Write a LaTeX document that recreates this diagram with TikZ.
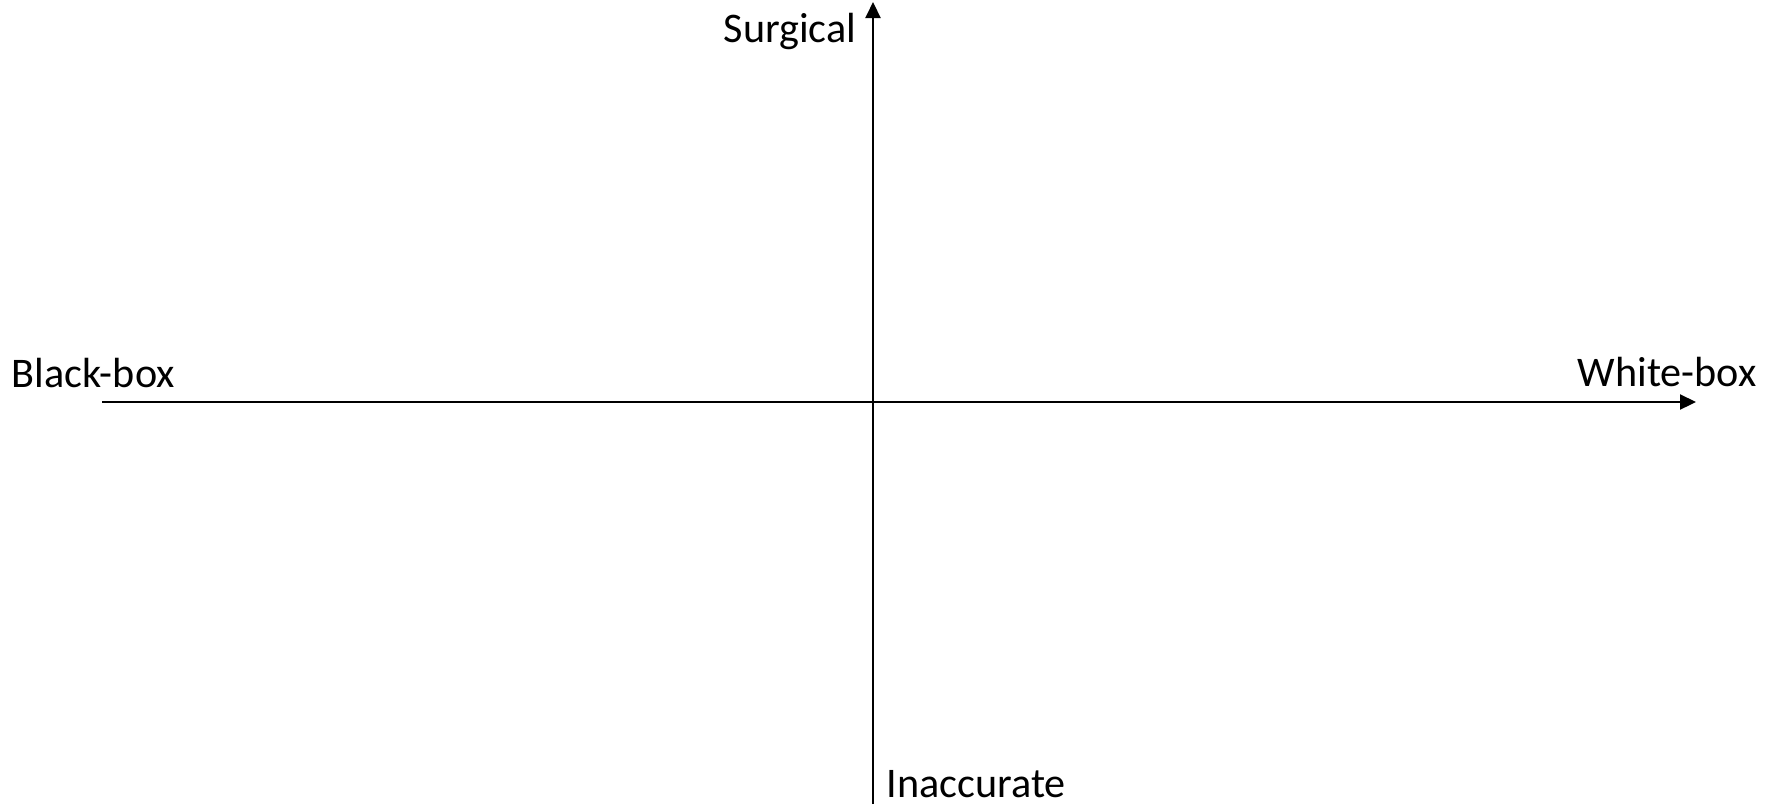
\documentclass[tikz,border=0pt]{standalone}
\usepackage{fontspec}
\setmainfont{Carlito}
\usetikzlibrary{arrows.meta}

\begin{document}
\begin{tikzpicture}[x=0.1mm,y=-0.1mm]
\tikzset{axis/.style={line width=0.6pt,-{Triangle[length=1.6mm,width=1.5mm]}},
  lbl/.style={inner sep=0pt,font=\fontsize{12}{14}\selectfont}}
\useasboundingbox (0,0) rectangle (1777,804);

\coordinate (left) at (102,402);
\coordinate (right) at (1696,402);
\coordinate (bottom) at (873,804);
\coordinate (top) at (873,2);

\draw[axis] (left) -- (right);
\draw[axis] (bottom) -- (top);

\path (857,42) node[lbl,anchor=base east] (surg) {Surgical};
\path (11,387) node[lbl,anchor=base west] (bb) {Black-box};
\path (1577,386) node[lbl,anchor=base west] (wb) {White-box};
\path (886,797) node[lbl,anchor=base west] (inacc) {Inaccurate};
\end{tikzpicture}
\end{document}
